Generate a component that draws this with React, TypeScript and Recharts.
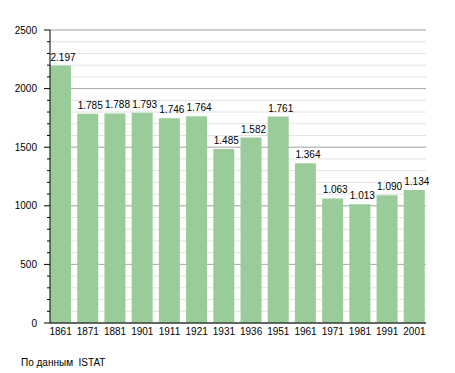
import React from 'react';
import { BarChart, Bar, XAxis, YAxis, CartesianGrid, LabelList } from 'recharts';

const years = ['1861', '1871', '1881', '1901', '1911', '1921', '1931', '1936', '1951', '1961', '1971', '1981', '1991', '2001'];
const population = [2197, 1785, 1788, 1793, 1746, 1764, 1485, 1582, 1761, 1364, 1063, 1013, 1090, 1134];
const majorTicks = [0, 500, 1000, 1500, 2000, 2500];
const minorTicks = [
  0, 100, 200, 300, 400, 500, 600, 700, 800, 900, 1000, 1100, 1200,
  1300, 1400, 1500, 1600, 1700, 1800, 1900, 2000, 2100, 2200, 2300, 2400, 2500,
];

const data = years.map((year, i) => ({ year, value: population[i] }));

// 2197 -> "2.197"
const fmt = (v: number) =>
  v >= 1000 ? `${Math.floor(v / 1000)}.${String(v % 1000).padStart(3, '0')}` : String(v);

const YTick = (props: any) => {
  const { x, y, payload } = props;
  const major = payload.value % 500 === 0;
  return (
    <g>
      <line x1={x - (major ? 6 : 3)} x2={x} y1={y} y2={y} stroke="#000" />
      {major && (
        <text x={x - 13} y={y} dy="0.355em" textAnchor="end" fontSize={10} fill="#000">
          {payload.value}
        </text>
      )}
    </g>
  );
};

const ValueLabel = (props: any) => {
  const { x, y, value } = props;
  return (
    <text x={x + 0.5} y={y - 5} fontSize={10} fill="#000">
      {fmt(value)}
    </text>
  );
};

export default function App() {
  return (
    <div
      style={{
        position: 'absolute',
        left: 0,
        top: 0,
        width: 455,
        height: 373,
        background: '#fff',
        fontFamily: '"Liberation Sans", Arial, sans-serif',
      }}
    >
      <BarChart width={455} height={373} data={data} margin={{ top: 30, right: 29, left: 0, bottom: 30 }}>
        <CartesianGrid vertical={false} stroke="#e2e2e2" />
        <CartesianGrid vertical={false} stroke="#ababab" horizontalValues={majorTicks} />
        <XAxis
          dataKey="year"
          tickLine={false}
          tickSize={0}
          tickMargin={5}
          height={20}
          padding={{ left: -3, right: -2 }}
          axisLine={{ stroke: '#000' }}
          tick={{ fontSize: 10, fill: '#000' }}
          interval={0}
        />
        <YAxis
          width={50}
          domain={[0, 2500]}
          ticks={minorTicks}
          interval={0}
          tickLine={false}
          tickSize={0}
          tickMargin={0}
          axisLine={{ stroke: '#000' }}
          tick={<YTick />}
        />
        <Bar dataKey="value" fill="#99cc99" barSize={21} isAnimationActive={false}>
          <LabelList dataKey="value" content={<ValueLabel />} />
        </Bar>
      </BarChart>
      <div style={{ position: 'absolute', left: 21, top: 357, fontSize: 10, lineHeight: '12px', color: '#000' }}>
        По данным&nbsp; ISTAT
      </div>
    </div>
  );
}
